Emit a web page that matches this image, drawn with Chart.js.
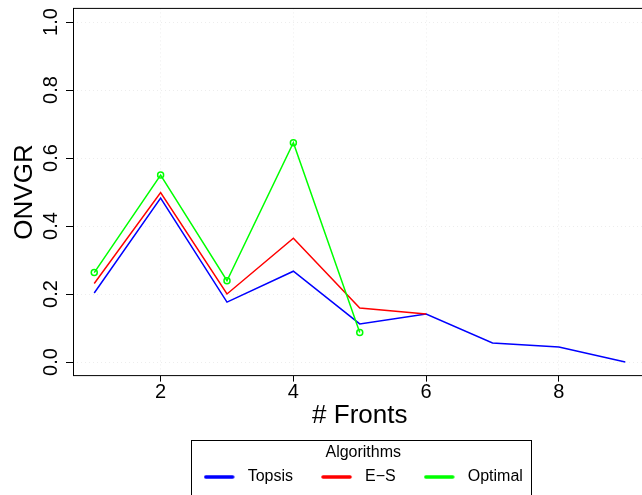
<!DOCTYPE html>
<html>
<head>
<meta charset="utf-8">
<script src="https://cdn.jsdelivr.net/npm/chart.js@4.4.1/dist/chart.umd.min.js"></script>
<style>
    html, body {
        margin: 0;
        padding: 0;
        background: #fff;
        overflow: hidden;
    }
    #wrap {
        position: relative;
        width: 642px;
        height: 495px;
        overflow: hidden;
    }
</style>
</head>
<body>
<div id="wrap">
    <canvas id="onvgrChart" width="652" height="495"></canvas>
</div>
<script>
const fronts = [1, 2, 3, 4, 5, 6, 7, 8, 9];
const topsis = [0.203, 0.482, 0.176, 0.267, 0.112, 0.141, 0.056, 0.044, 0.0];
const es = [0.231, 0.498, 0.2, 0.364, 0.159, 0.141];
const optimal = [0.263, 0.55, 0.239, 0.645, 0.087];

const xTicks = [2, 4, 6, 8];
const yTicks = [0, 0.2, 0.4, 0.6, 0.8, 1.0];

const toPoints = (values) => values.map((value, i) => ({ x: fronts[i], y: value }));

Chart.defaults.font.family = '"Liberation Sans", Arial, sans-serif';
Chart.defaults.color = '#000';

// legend swatch: a thick line at the left of a slightly wider box, so the text sits further off
const legendSwatch = (color) => {
    const c = document.createElement('canvas');
    c.width = 36;
    c.height = 8;
    const g = c.getContext('2d');
    g.strokeStyle = color;
    g.lineWidth = 3.5;
    g.lineCap = 'round';
    g.beginPath();
    g.moveTo(2, 4);
    g.lineTo(29, 4);
    g.stroke();
    return c;
};

const LEGEND_SHIFT = 3.5;

// box round the plot region and round the legend, as R draws them
const framePlugin = {
    id: 'frame',
    afterUpdate(chart) {
        const legend = chart.legend;
        legend.left += LEGEND_SHIFT;
        legend.right += LEGEND_SHIFT;
        (legend.legendHitBoxes || []).forEach((box) => {
            box.left += LEGEND_SHIFT;
        });
    },
    afterDraw(chart) {
        const { ctx, chartArea, legend } = chart;
        ctx.save();
        ctx.strokeStyle = '#000';
        ctx.lineWidth = 1;
        ctx.strokeRect(chartArea.left + 0.5, chartArea.top, chartArea.right - chartArea.left, chartArea.bottom - chartArea.top);

        const boxes = legend.legendHitBoxes;
        if (boxes && boxes.length) {
            const first = boxes[0];
            const last = boxes[boxes.length - 1];
            const left = first.left - 13;
            const right = last.left + last.width + 8;
            ctx.strokeRect(Math.round(left) + 0.5, Math.round(legend.top) + 0.5, Math.round(right - left), chart.height);
        }
        ctx.restore();
    },
};

const faintGrid = {
    color: 'rgba(0, 0, 0, 0.07)',
    tickColor: '#000',
    tickLength: 6,
    tickWidth: 1,
};

new Chart(document.getElementById('onvgrChart'), {
    type: 'line',
    data: {
        datasets: [
            {
                label: 'Topsis',
                data: toPoints(topsis),
                borderColor: '#0000ff',
                backgroundColor: '#0000ff',
                borderWidth: 1.5,
                pointRadius: 0,
                order: 2,
            },
            {
                label: 'E\u2212S',
                data: toPoints(es),
                borderColor: '#ff0000',
                backgroundColor: '#ff0000',
                borderWidth: 1.5,
                pointRadius: 0,
                order: 1,
            },
            {
                label: 'Optimal',
                data: toPoints(optimal),
                borderColor: '#00ff00',
                backgroundColor: '#00ff00',
                borderWidth: 1.5,
                pointRadius: 3,
                pointBorderWidth: 1.5,
                pointBackgroundColor: 'rgba(0, 0, 0, 0)',
                order: 0,
            },
        ],
    },
    options: {
        responsive: false,
        animation: false,
        devicePixelRatio: 1,
        layout: {
            padding: { top: 8.4, left: 0, right: 0, bottom: 0 },
        },
        scales: {
            x: {
                type: 'linear',
                min: 0.68,
                max: 9.32,
                afterBuildTicks: (scale) => {
                    scale.ticks = xTicks.map((value) => ({ value }));
                },
                afterFit: (scale) => {
                    scale.height = 64.8;
                    scale.paddingLeft = 0;
                    scale.paddingRight = 0;
                },
                ticks: {
                    font: { size: 20 },
                    padding: -1,
                    maxRotation: 0,
                    callback: (value) => String(value),
                },
                grid: { ...faintGrid },
                border: { display: false, dash: [1, 3] },
                title: {
                    display: true,
                    text: '# Fronts',
                    font: { size: 26 },
                    padding: { top: 0, bottom: 9 },
                },
            },
            y: {
                min: -0.04,
                max: 1.04,
                afterBuildTicks: (scale) => {
                    scale.ticks = yTicks.map((value) => ({ value }));
                },
                afterFit: (scale) => {
                    scale.width = 73;
                    scale.paddingTop = 0;
                    scale.paddingBottom = 0;
                },
                ticks: {
                    font: { size: 20 },
                    minRotation: 90,
                    maxRotation: 90,
                    crossAlign: 'center',
                    padding: 1,
                    callback: (value) => value.toFixed(1),
                },
                grid: { ...faintGrid, tickLength: 7 },
                border: { display: false, dash: [1, 3] },
                title: {
                    display: true,
                    text: 'ONVGR',
                    font: { size: 26 },
                    padding: { top: 9, bottom: 0 },
                },
            },
        },
        plugins: {
            legend: {
                position: 'bottom',
                fullSize: false,
                title: {
                    display: true,
                    text: 'Algorithms',
                    font: { size: 16, weight: 'normal' },
                    padding: { top: 4, bottom: -22.6 },
                },
                labels: {
                    font: { size: 16 },
                    padding: 28,
                    usePointStyle: true,
                    pointStyleWidth: 36,
                    sort: (a, b) => a.datasetIndex - b.datasetIndex,
                    generateLabels: (chart) => {
                        const items = Chart.defaults.plugins.legend.labels.generateLabels(chart);
                        return items.map((item) => ({ ...item, pointStyle: legendSwatch(item.strokeStyle) }));
                    },
                },
            },
            tooltip: { enabled: false },
        },
    },
    plugins: [framePlugin],
});
</script>
</body>
</html>
